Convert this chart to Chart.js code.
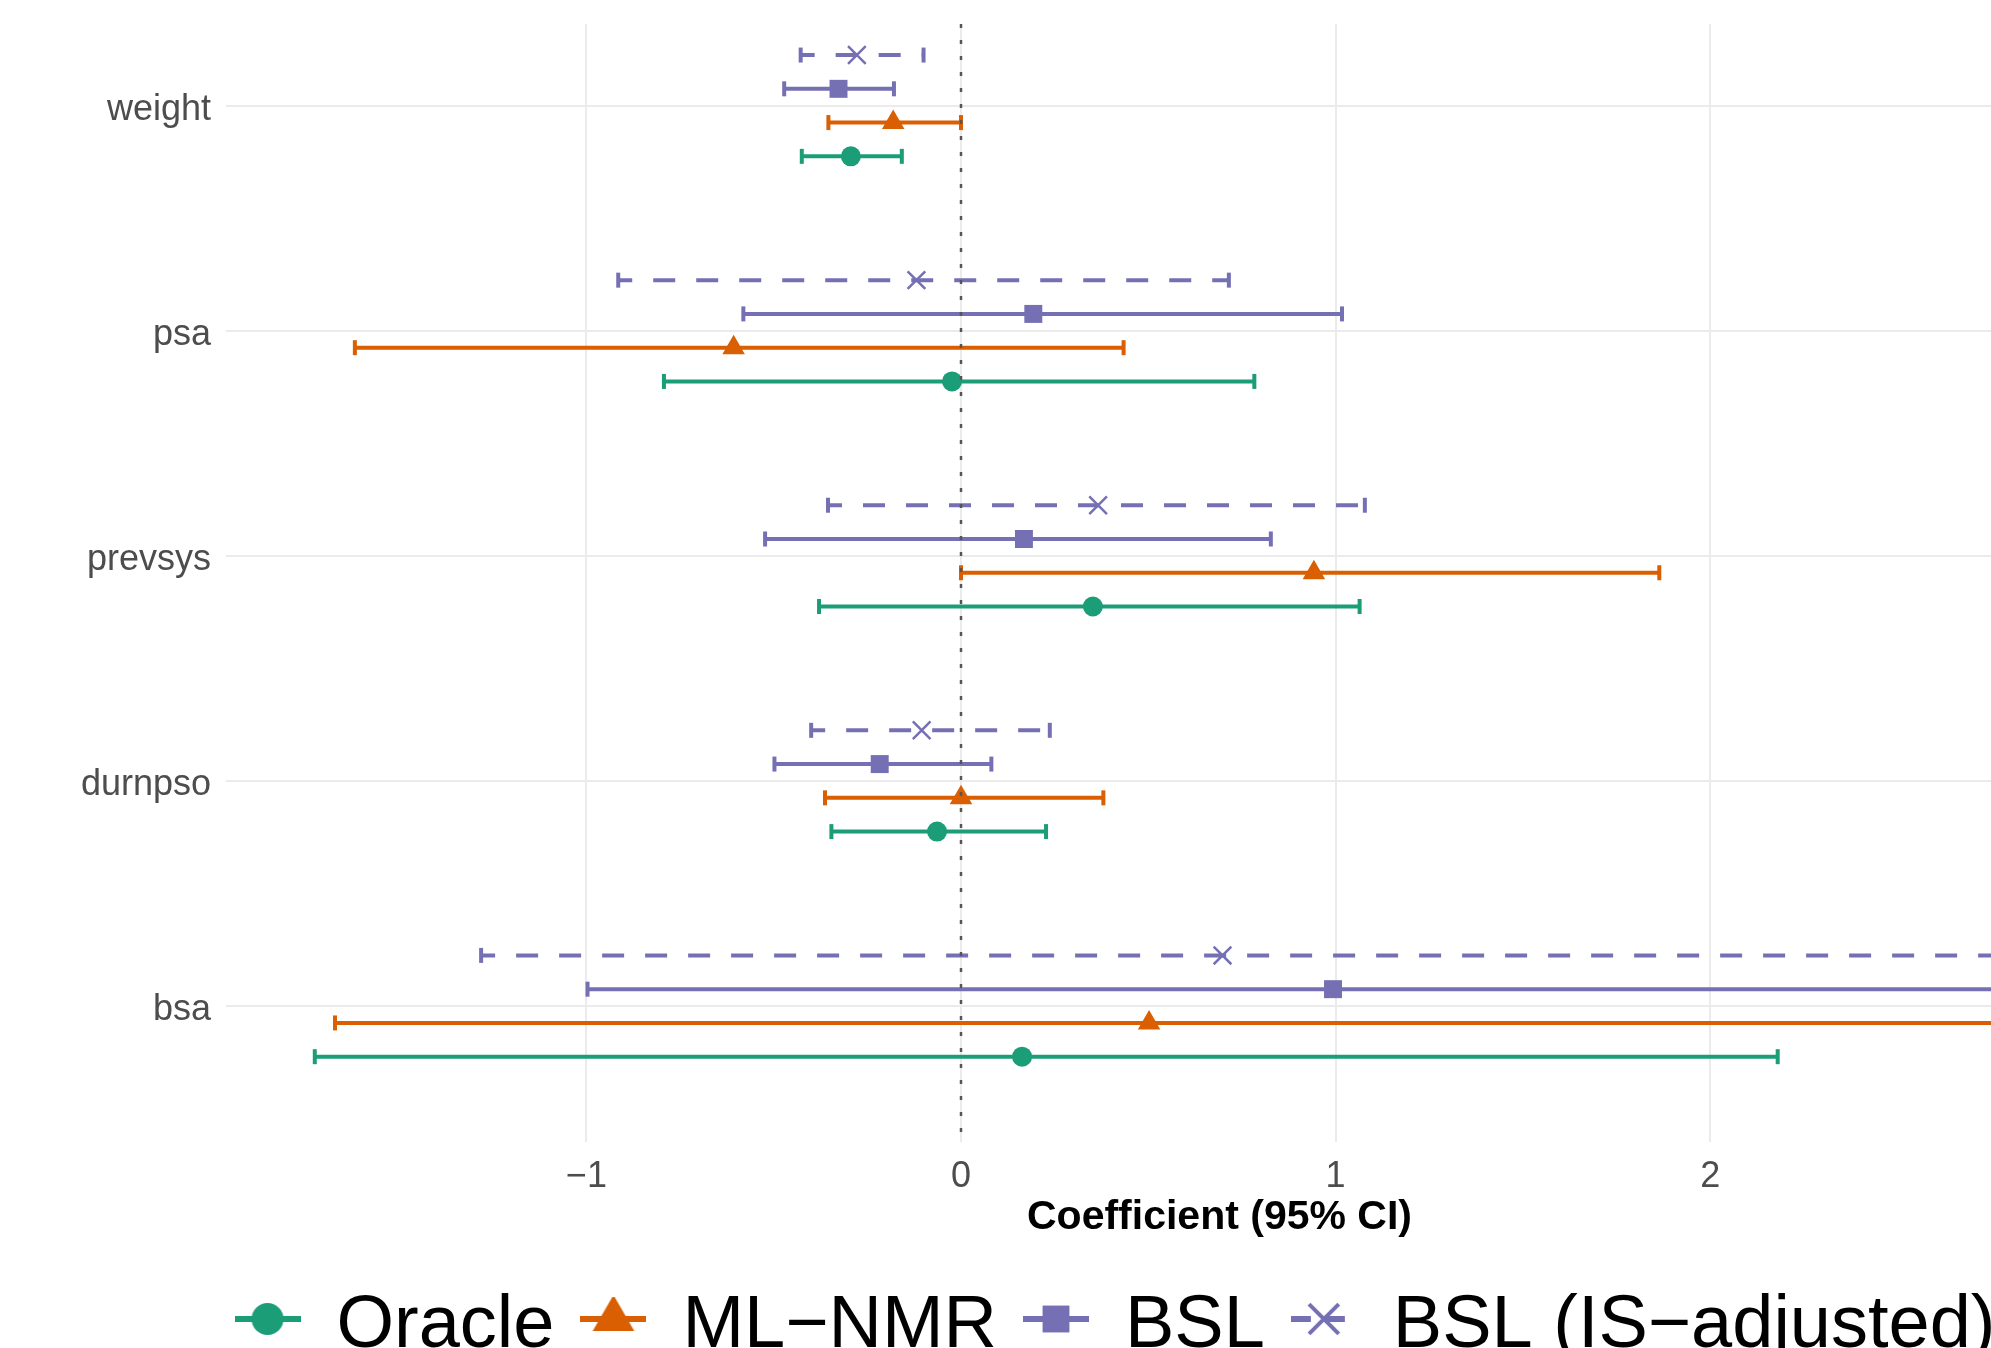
<!DOCTYPE html>
<html>
<head>
<meta charset="utf-8">
<title>Coefficient plot</title>
<script src="https://cdn.jsdelivr.net/npm/chart.js@4.4.1/dist/chart.umd.min.js"></script>
<style>
  html, body { margin: 0; padding: 0; background: #fff; overflow: hidden; }
  canvas { display: block; }
</style>
</head>
<body>
<!-- the figure is wider/taller than the window; the window crops it like the reference -->
<canvas id="coefChart" width="2237" height="1398"></canvas>
<script>
// covariates, top to bottom
const categories = ['weight', 'psa', 'prevsys', 'durnpso', 'bsa'];
const xTicks = [-1, 0, 1, 2, 3];
const zeroLine = 0;

const seriesNames = ['Oracle', 'ML\u2212NMR', 'BSL', 'BSL (IS\u2212adjusted)'];
const seriesColors = ['#1B9E77', '#D95F02', '#7570B3', '#7570B3'];

// point estimates and 95% CI bounds, one value per covariate
const oracleEst  = [-0.294, -0.024, 0.352, -0.064, 0.163];
const oracleLow  = [-0.425, -0.793, -0.379, -0.346, -1.725];
const oracleHigh = [-0.158, 0.783, 1.064, 0.227, 2.180];

const mlnmrEst  = [-0.181, -0.607, 0.942, 0.000, 0.502];
const mlnmrLow  = [-0.354, -1.618, 0.000, -0.363, -1.671];
const mlnmrHigh = [0.000, 0.434, 1.864, 0.380, 2.900];

const bslEst  = [-0.327, 0.193, 0.168, -0.217, 0.993];
const bslLow  = [-0.472, -0.581, -0.523, -0.498, -0.997];
const bslHigh = [-0.179, 1.017, 0.827, 0.081, 2.980];

const bslIsEst  = [-0.278, -0.119, 0.366, -0.105, 0.698];
const bslIsLow  = [-0.428, -0.915, -0.355, -0.400, -1.281];
const bslIsHigh = [-0.100, 0.715, 1.078, 0.237, 2.850];

// dodge offsets (in category units) and marker styles
const series = [
    { est: oracleEst, low: oracleLow, high: oracleHigh, shift: 0.225, marker: 'circle', radius: 10, keyRadius: 16, dashed: false },
    { est: mlnmrEst, low: mlnmrLow, high: mlnmrHigh, shift: 0.075, marker: 'triangle', radius: 13, keyRadius: 24, dashed: false },
    { est: bslEst, low: bslLow, high: bslHigh, shift: -0.075, marker: 'rect', radius: 12.7, keyRadius: 19, dashed: false },
    { est: bslIsEst, low: bslIsLow, high: bslIsHigh, shift: -0.225, marker: 'crossRot', radius: 12.5, keyRadius: 21, dashed: true }
];

const yMin = -0.363;
const yMax = 4.604;

/**
 * Small canvas used as a legend key: line + marker, like ggplot's pointrange key
 * (drawn a bit above the canvas centre so it lines up with the label text)
 */
function legendKey(s, color) {
    const c = document.createElement('canvas');
    c.width = 66;
    c.height = 60;
    const cy = 22;
    const ctx = c.getContext('2d');
    ctx.strokeStyle = color;
    ctx.fillStyle = color;
    ctx.lineWidth = 6;
    ctx.setLineDash(s.dashed ? [20, 14] : []);
    ctx.beginPath();
    ctx.moveTo(0, cy);
    ctx.lineTo(66, cy);
    ctx.stroke();
    ctx.setLineDash([]);
    ctx.lineWidth = 4;
    Chart.helpers.drawPoint(ctx, {
        pointStyle: s.marker,
        radius: s.keyRadius,
        rotation: 0,
        borderWidth: s.marker === 'crossRot' ? 4 : 0
    }, 33, cy);
    return c;
}

const datasets = [];

// dotted reference line at zero
datasets.push({
    label: 'zero',
    data: [{ x: zeroLine, y: yMin }, { x: zeroLine, y: yMax }],
    showLine: true,
    borderColor: '#555555',
    borderWidth: 2.5,
    borderDash: [4, 12],
    pointRadius: 0,
    order: -1
});

series.forEach((s, k) => {
    const color = seriesColors[k];
    const line = [];
    const caps = [];
    const pts = [];
    categories.forEach((c, i) => {
        const y = i + s.shift;
        line.push({ x: s.low[i], y: y }, { x: s.high[i], y: y }, { x: null, y: null });
        caps.push({ x: s.low[i], y: y }, { x: s.high[i], y: y });
        pts.push({ x: s.est[i], y: y });
    });

    // interval line
    datasets.push({
        label: seriesNames[k] + ' CI',
        data: line,
        showLine: true,
        spanGaps: false,
        borderColor: color,
        borderWidth: 4,
        borderCapStyle: 'butt',
        borderDash: s.dashed ? [22, 21] : [],
        borderDashOffset: s.dashed ? 8 : 0,
        pointRadius: 0,
        order: 20 - k * 3
    });
    // end caps
    datasets.push({
        label: seriesNames[k] + ' caps',
        data: caps,
        pointStyle: 'line',
        rotation: 90,
        pointRadius: 7.5,
        pointBorderWidth: 4,
        pointBorderColor: color,
        order: 19 - k * 3
    });
    // estimate marker
    datasets.push({
        label: seriesNames[k],
        data: pts,
        pointStyle: s.marker,
        pointRadius: s.radius,
        pointBackgroundColor: color,
        pointBorderColor: color,
        pointBorderWidth: s.marker === 'crossRot' ? 2.5 : 0,
        order: 18 - k * 3
    });
});

Chart.defaults.font.family = '"Liberation Sans", Arial, Helvetica, sans-serif';

const keys = series.map((s, k) => legendKey(s, seriesColors[k]));

new Chart(document.getElementById('coefChart'), {
    type: 'scatter',
    data: { datasets: datasets },
    options: {
        responsive: false,
        animation: false,
        events: [],
        layout: { padding: { left: 18, top: 24, right: 24, bottom: 24 } },
        plugins: {
            tooltip: { enabled: false },
            legend: {
                position: 'bottom',
                labels: {
                    usePointStyle: true,
                    pointStyleWidth: 64,
                    padding: 27,
                    color: '#000000',
                    font: { size: 74 },
                    generateLabels: function() {
                        return seriesNames.map((name, k) => ({
                            text: name,
                            fillStyle: seriesColors[k],
                            strokeStyle: seriesColors[k],
                            lineWidth: 0,
                            pointStyle: keys[k],
                            hidden: false,
                            datasetIndex: 3 + k * 3
                        }));
                    }
                }
            }
        },
        scales: {
            x: {
                type: 'linear',
                min: -1.962,
                max: 3.342,
                afterBuildTicks: function(scale) {
                    scale.ticks = xTicks.map(v => ({ value: v }));
                },
                afterFit: function(scale) {
                    scale.height = 121;
                },
                border: { display: false },
                grid: { color: '#EBEBEB', lineWidth: 2, drawTicks: false },
                ticks: {
                    padding: 13,
                    color: '#4D4D4D',
                    font: { size: 36 },
                    callback: function(value) {
                        return value < 0 ? '\u2212' + Math.abs(value) : String(value);
                    }
                },
                title: {
                    display: true,
                    text: 'Coefficient (95% CI)',
                    color: '#000000',
                    font: { size: 41, weight: 'bold' },
                    padding: { top: 0, bottom: 21 }
                }
            },
            y: {
                type: 'linear',
                reverse: true,
                min: yMin,
                max: yMax,
                afterBuildTicks: function(scale) {
                    scale.ticks = categories.map((c, i) => ({ value: i }));
                },
                afterFit: function(scale) {
                    scale.width = 208;
                    scale.paddingTop = 0;
                    scale.paddingBottom = 0;
                },
                border: { display: false },
                grid: { color: '#EBEBEB', lineWidth: 2, drawTicks: false },
                ticks: {
                    padding: 15,
                    labelOffset: 4,
                    color: '#4D4D4D',
                    font: { size: 36 },
                    callback: function(value) {
                        return categories[value];
                    }
                }
            }
        }
    }
});
</script>
</body>
</html>
